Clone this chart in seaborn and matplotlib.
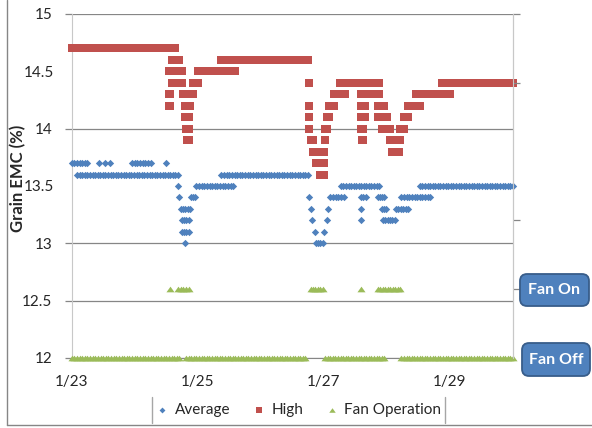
import numpy as np
import pandas as pd
import matplotlib
matplotlib.use("Agg")
import matplotlib.pyplot as plt
import seaborn as sns
from matplotlib.lines import Line2D
from matplotlib.patches import FancyBboxPatch

# ---------------------------------------------
# Data: runs of hourly readings (hours after 1/23 00:00)
# ---------------------------------------------
avg_start = [0, 10.5, 12.5, 14.5, 23, 36, 2, 40.5, 41, 41.5, 42, 42, 43, 45.5, 47.5, 57,
             90.5, 91, 91.5, 92.5, 93, 96, 97, 97.5, 98.5, 102.5, 110, 110, 110,
             116.5, 118, 118.5, 123.5, 125.5, 132.5]
avg_end = [6, 10.5, 12.5, 14.5, 30, 36, 40.5, 40.5, 41, 45, 44.5, 44.5, 43, 47, 61.5, 90,
           90.5, 91, 91.5, 92.5, 95.5, 96, 97, 97.5, 103.5, 117, 112, 110, 110,
           119, 119.5, 123, 128, 136.5, 168]
avg_value = [13.7, 13.7, 13.7, 13.7, 13.7, 13.7, 13.6, 13.5, 13.4, 13.3, 13.2, 13.1, 13.0, 13.4, 13.5, 13.6,
             13.4, 13.3, 13.2, 13.1, 13.0, 13.1, 13.2, 13.3, 13.4, 13.5, 13.4, 13.3, 13.2,
             13.4, 13.3, 13.2, 13.3, 13.4, 13.5]

high_start = [0, 38, 37, 38, 37, 37, 42.5, 43, 43, 43.5, 44, 46, 48, 57,
              90.5, 90.5, 90.5, 90.5, 91, 92, 93, 94.5, 96.5, 96.5, 97, 98, 100, 102,
              110, 110, 110, 110, 110.5, 113,
              116.5, 116.5, 118, 121, 122, 125, 126.5, 128, 131, 141]
high_end = [39.5, 41, 42, 42, 37.5, 37.5, 46, 45, 44.5, 44.5, 44.5, 48, 62, 90,
            90.5, 90.5, 90.5, 90.5, 92, 96, 96, 96, 96.5, 97, 98, 100, 104, 110,
            117, 111.5, 111.5, 111, 111, 117,
            119, 120, 121, 125, 124.5, 126.5, 128, 132.5, 144, 168]
high_value = [14.7, 14.6, 14.5, 14.4, 14.3, 14.2, 14.3, 14.2, 14.1, 14.0, 13.9, 14.4, 14.5, 14.6,
              14.4, 14.2, 14.1, 14.0, 13.9, 13.8, 13.7, 13.6, 13.9, 14.0, 14.1, 14.2, 14.3, 14.4,
              14.3, 14.2, 14.1, 14.0, 13.9, 14.4,
              14.2, 14.1, 14.0, 13.9, 13.8, 14.0, 14.1, 14.2, 14.3, 14.4]

fan_start = [0, 43.5, 96.5, 125.5, 37.5, 40.5, 91, 110, 116.5]
fan_end = [41, 89, 119, 168, 37.5, 44.5, 95.5, 110, 125]
fan_value = [12.0, 12.0, 12.0, 12.0, 12.6, 12.6, 12.6, 12.6, 12.6]

tick_hours = [0, 48, 96, 144]
tick_labels = ["1/23", "1/25", "1/27", "1/29"]
grid_values = [12, 12.5, 13, 14, 15]
grid_labels = ["12", "12.5", "13", "14", "15"]
other_values = [13.5, 14.5]
other_labels = ["13.5", "14.5"]


def expand(starts, ends, values, name):
    rows = []
    for a, b, v in zip(starts, ends, values):
        n = int(np.ceil(b - a)) + 1
        for h in np.linspace(a, b, n):
            rows.append({"hour": h, "emc": v, "series": name})
    return rows


df = pd.DataFrame(expand(avg_start, avg_end, avg_value, "Average")
                  + expand(high_start, high_end, high_value, "High")
                  + expand(fan_start, fan_end, fan_value, "Fan Operation"))

# ---------------------------------------------
# Figure
# ---------------------------------------------
sns.set_style("white")
plt.rcParams["font.family"] = ["Lato", "DejaVu Sans"]

fig = plt.figure(figsize=(5.92, 4.28), dpi=100)
ax = fig.add_axes([0.1211, 0.1636, 0.7455, 0.8037])

tri = [(-1, -0.7), (1, -0.7), (0, 0.7)]
styles = {
    "Average": dict(marker="D", color="#4F81BD", s=14),
    "High": dict(marker="s", color="#C0504D", s=26),
    "Fan Operation": dict(marker=tri, color="#9BBB59", s=34),
}
for name, st in styles.items():
    sns.scatterplot(data=df[df["series"] == name], x="hour", y="emc", ax=ax,
                    marker=st["marker"], color=st["color"], s=st["s"],
                    linewidth=0, label=name, clip_on=False, zorder=3, legend=False)

ax.set_xlim(0, 168)
ax.set_ylim(12, 15)
ax.set_xticks(tick_hours)
ax.set_xticklabels(tick_labels)
ax.set_yticks(grid_values)
ax.set_yticklabels(grid_labels)
ax.set_yticks(other_values, minor=True)
ax.set_yticklabels(other_labels, minor=True)
ax.grid(which="major", axis="y", color="#868686", lw=0.9)
ax.tick_params(axis="y", which="major", length=5, pad=8.9, width=0.9, color="#868686", labelsize=11)
ax.tick_params(axis="y", which="minor", length=0, pad=12.5, labelsize=11)
ax.tick_params(axis="x", length=0, pad=12, labelsize=11)
ax.set_xlabel("")
ax.set_ylabel("")
ax.spines["top"].set_visible(False)
ax.spines["left"].set_color("#C8C8C8")
ax.spines["bottom"].set_color("#868686")
ax.spines["right"].set_color("#C8C8C8")

ax2 = ax.twinx()
ax2.set_ylim(0, 5)
ax2.set_yticks([1, 2, 4, 5])
ax2.set_yticklabels([])
ax2.tick_params(axis="y", length=5, color="#868686", width=0.9)
for side in ["top", "left", "bottom"]:
    ax2.spines[side].set_visible(False)
ax2.spines["right"].set_color("#C8C8C8")

fig.text(18 / 592, 1 - 178 / 428, "Grain EMC (%)", rotation=90, ha="center", va="center",
         fontsize=12, fontweight="bold")

handles, labels = ax.get_legend_handles_labels()
fig.legend(handles, labels, loc="center", bbox_to_anchor=(298 / 592, 1 - 410 / 428), ncol=3,
           frameon=False, fontsize=11, markerscale=0.8, handletextpad=0.3, columnspacing=1.4,
           handlelength=1.0)

grey = "#A6A6A6"
for xp in [152, 445]:
    fig.add_artist(Line2D([xp / 592, xp / 592], [1 - 397 / 428, 1 - 423 / 428],
                          transform=fig.transFigure, color=grey, lw=1))
fig.add_artist(Line2D([7 / 592, 7 / 592], [0.006, 1], transform=fig.transFigure, color="#868686", lw=1))
fig.add_artist(Line2D([7 / 592, 1], [0.006, 0.006], transform=fig.transFigure, color="#868686", lw=1))

# "Fan On" / "Fan Off" callout boxes (pixel extents from the reference)
for text, (x0, y0, x1, y1) in [("Fan On", (520, 274, 589, 306)), ("Fan Off", (522, 343, 590, 376))]:
    patch = FancyBboxPatch((x0 / 592, 1 - y1 / 428), (x1 - x0) / 592, (y1 - y0) / 428,
                           boxstyle="round,pad=0,rounding_size=0.012", transform=fig.transFigure,
                           fc="#4F81BD", ec="#385D8A", lw=1.3, mutation_aspect=592 / 428)
    fig.add_artist(patch)
    fig.text((x0 + x1) / 2 / 592, 1 - (y0 + y1) / 2 / 428, text, ha="center", va="center",
             color="white", fontsize=11.5, fontweight="bold")

fig.savefig("out.png", dpi=100)
